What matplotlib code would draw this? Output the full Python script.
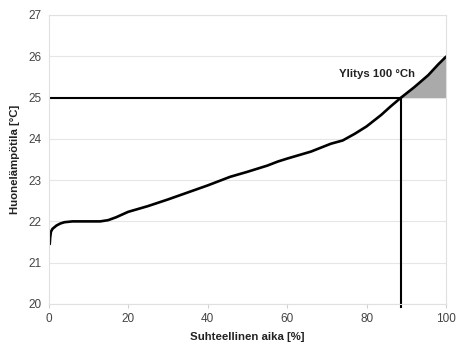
import numpy as np
import matplotlib.pyplot as plt

plt.rcParams['font.family'] = ['Liberation Sans', 'DejaVu Sans']

# Suhteellinen aika [%] ja huonelämpötila [°C] (luettu kuvasta)
aika = [0.3, 0.4, 0.6, 1.0, 2.0, 3.0, 4.0, 6.0, 10.0, 13.0, 15.0, 17.0, 20.0,
        25.0, 30.0, 35.0, 40.0, 45.7, 50.0, 55.0, 57.7, 60.0, 66.0, 71.0,
        74.0, 77.0, 80.0, 83.7, 86.0, 88.7, 92.0, 95.5, 98.0, 100.0]
lampotila = [21.45, 21.6, 21.75, 21.82, 21.9, 21.95, 21.98, 22.0, 22.0, 22.0,
             22.03, 22.1, 22.23, 22.37, 22.53, 22.7, 22.87, 23.08, 23.2, 23.35,
             23.45, 23.52, 23.69, 23.88, 23.96, 24.12, 24.3, 24.58, 24.78,
             25.0, 25.25, 25.54, 25.8, 25.99]

raja = 25.0
ylitys_x = 88.7

fig = plt.figure(figsize=(4.58, 3.47), dpi=100)
ax = fig.add_axes([0.106, 0.124, 0.868, 0.833])

x = np.array(aika)
y = np.array(lampotila)

ax.fill_between(x, y, raja, where=(x >= ylitys_x), color='#aaaaaa', lw=0, interpolate=True)
ax.plot(x, y, color='black', lw=1.9, solid_capstyle='round')
ax.plot([0, ylitys_x], [raja, raja], color='black', lw=1.5)
ax.plot([ylitys_x, ylitys_x], [19.93, raja], color='black', lw=1.5, clip_on=False)

ax.text(82.5, 25.57, 'Ylitys 100 °Ch', ha='center', va='center',
        fontsize=8.2, fontweight='bold', color='#222222')

ax.set_xlim(0, 100)
ax.set_ylim(20, 27)
ax.set_xticks([0, 20, 40, 60, 80, 100])
ax.set_yticks(range(20, 28))
ax.grid(axis='y', color='#e6e6e6', lw=0.8)
ax.set_axisbelow(True)
for s in ax.spines.values():
    s.set_color('#e0e0e0')
    s.set_linewidth(0.8)
ax.tick_params(axis='both', labelsize=8.5, labelcolor='#444444', color='#d0d0d0', length=3)
ax.tick_params(axis='y', length=0, pad=5)

ax.set_xlabel('Suhteellinen aika [%]', fontsize=8.2, fontweight='bold', color='#222222', labelpad=5)
ax.set_ylabel('Huonelämpötila [°C]', fontsize=8.2, fontweight='bold', color='#222222', labelpad=6)

fig.savefig('out.png', dpi=100)
